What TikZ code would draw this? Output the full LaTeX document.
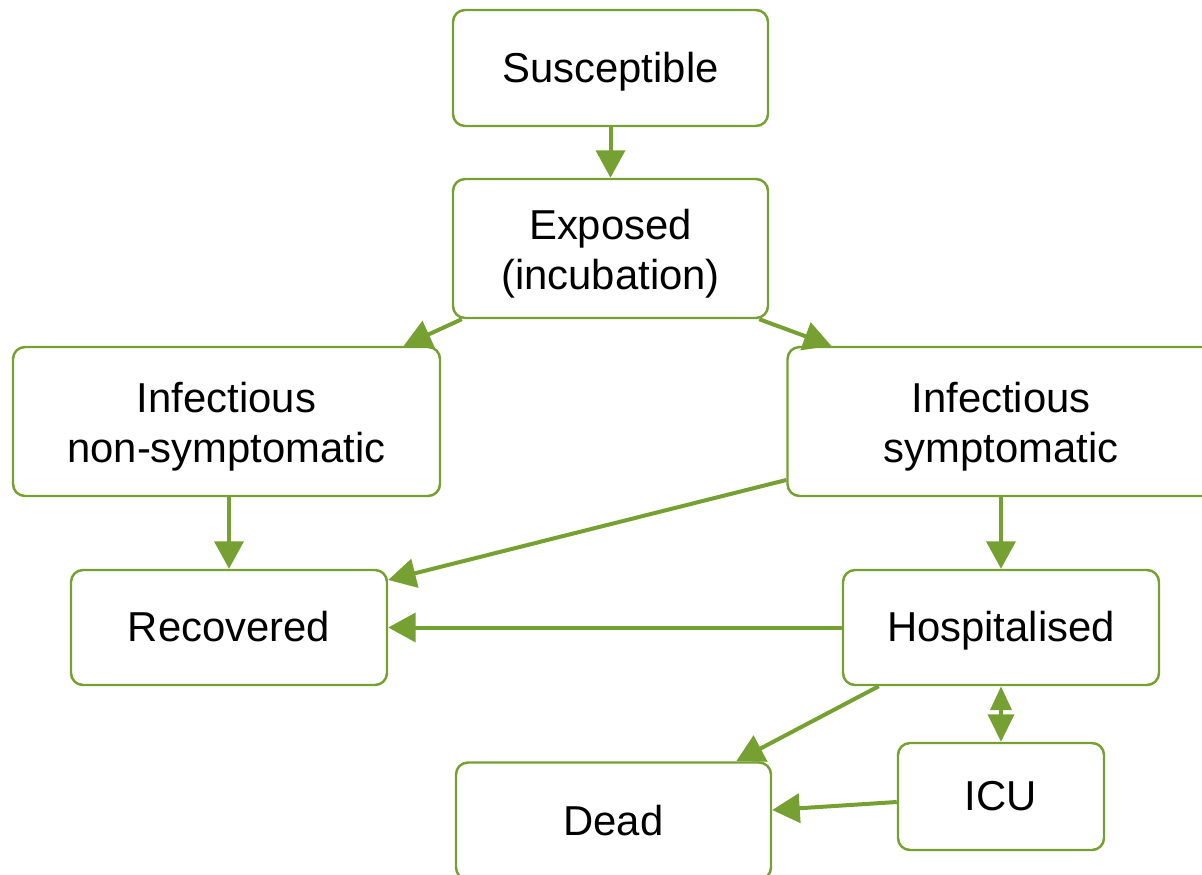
\documentclass[tikz,border=0pt]{standalone}
\usepackage{fontspec}
\setmainfont{Liberation Sans}
\usepackage{tikz}
\usetikzlibrary{positioning, calc, arrows.meta}
\definecolor{seirgreen}{RGB}{119,160,51}
\newcommand{\seirstrut}{\rule[-0.212em]{0pt}{1.117em}}
\newcommand{\seirlow}[1]{\raisebox{-0.1cm}[\height][\depth]{#1}}

\begin{document}
\begin{tikzpicture}[
    >={Triangle[length=0.55cm,width=0.58cm]},
    color=seirgreen, line width=0.08cm,
    state/.style={rectangle, rounded corners=0.24cm, draw=seirgreen, line width=1.4pt,
      fill=white, inner sep=0pt, align=center, text=black,
      font=\fontsize{23.8pt}{28.5pt}\selectfont,
      execute at begin node=\seirstrut, execute at end node=\seirstrut}
  ]
      \clip (0,0) rectangle (24.04,17.48);

      \node[state, minimum width=6.3cm, minimum height=2.32cm] (SEIR1) at (12.21,16.12) {Susceptible};
      \node[state, minimum width=6.3cm, minimum height=2.78cm] (SEIR2) at (12.21,12.51) {\seirlow{Exposed}\\\seirlow{(incubation)}};

      \node[state, minimum width=8.54cm, minimum height=2.98cm] (SEIR3) at (4.53,9.05) {\seirlow{Infectious}\\\seirlow{non-symptomatic}};
      \node[state, minimum width=8.54cm, minimum height=2.98cm] (SEIR4) at (20.02,9.05) {\seirlow{Infectious}\\\seirlow{symptomatic}};

      \node[state, minimum width=6.32cm, minimum height=2.3cm] (SEIR5) at (4.58,4.93) {Recovered};
      \node[state, minimum width=6.32cm, minimum height=2.3cm] (SEIR6) at (20.02,4.93) {Hospitalised};

      \node[state, minimum width=6.3cm, minimum height=2.34cm] (SEIR7) at (12.27,1.06) {Dead};
      \node[state, minimum width=4.12cm, minimum height=2.14cm] (SEIR8) at (20.02,1.55) {ICU};

      \draw[->] (SEIR1.south) -- (SEIR2.north);
      \draw[->] ([xshift=2mm]SEIR2.south west) -- ([xshift=-7.5mm]SEIR3.north east);
      \draw[->] ([xshift=-2mm]SEIR2.south east) -- ([xshift=9mm]SEIR4.north west);
      \draw[->] (SEIR3.south -| 4.58,0) -- (SEIR5.north);
      \draw[->] ([yshift=-1.17cm]SEIR4.west) -- ([yshift=0.95cm]SEIR5.east);
      \draw[->] (SEIR4.south) -- (SEIR6.north);
      \draw[->] (SEIR6.west) -- (SEIR5.east);
      \draw[->] ([xshift=0.74cm]SEIR6.south west) -- ([xshift=-0.72cm]SEIR7.north east);
      \draw[{Triangle[length=0.48cm,width=0.42cm]}-{Triangle[length=0.55cm,width=0.52cm]}] (SEIR6.south) -- (SEIR8.north);
      \draw[->] ([yshift=-0.11cm]SEIR8.west) -- ([yshift=0.22cm]SEIR7.east);
    \end{tikzpicture}
\end{document}
